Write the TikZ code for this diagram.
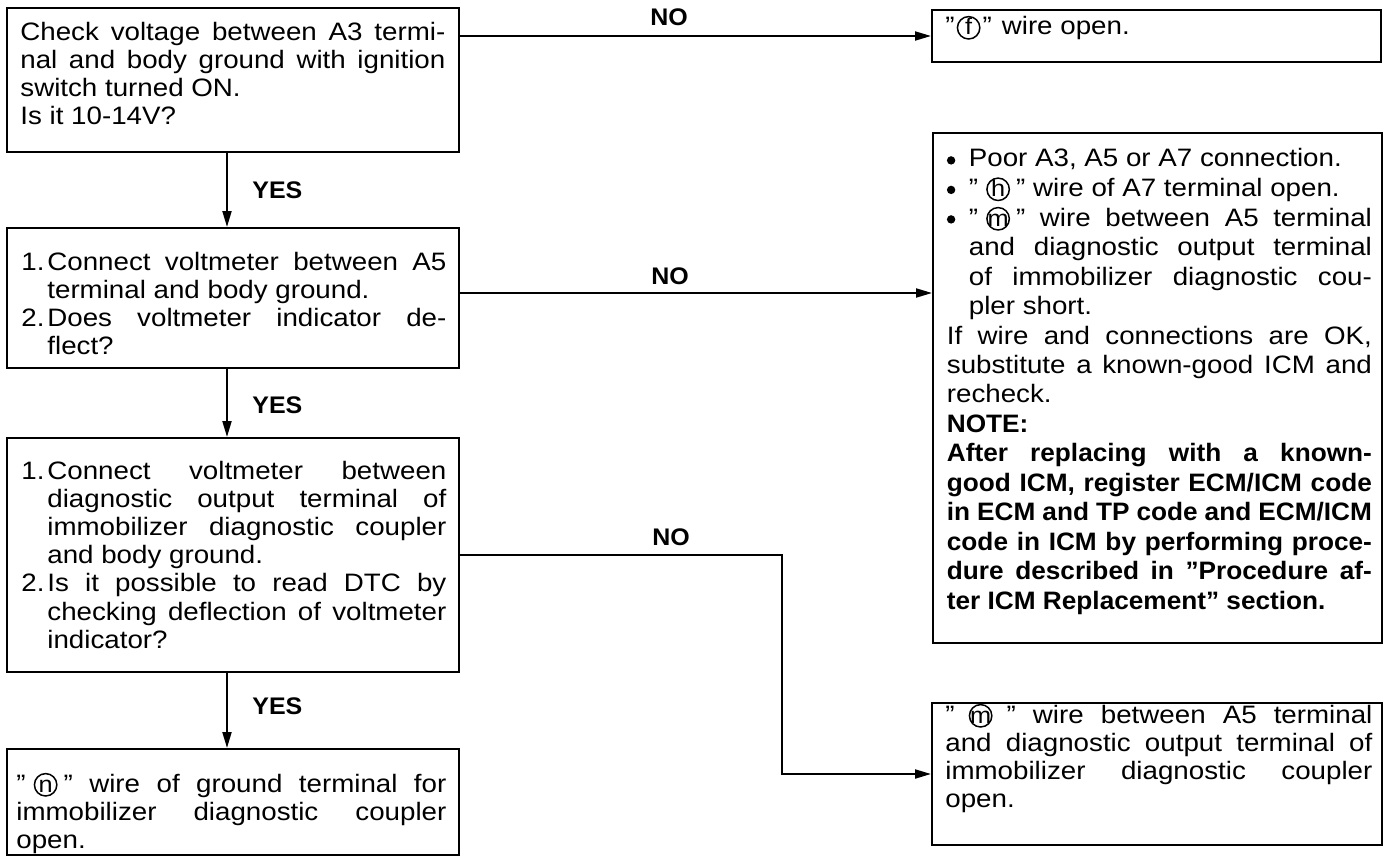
\documentclass[tikz,border=0pt]{standalone}
\usepackage{fontspec}
\setmainfont{Liberation Sans}[FakeStretch=1.1,BoldFeatures={FakeStretch=1.04}]
\usetikzlibrary{arrows.meta,fit,calc}
\tolerance=10000 \hbadness=10000 \hfuzz=20pt \hyphenpenalty=10000 \exhyphenpenalty=10000
\newcommand\cir[1]{\leavevmode\hbox to 12pt{\hss\tikz[baseline=0pt]\draw[line width=0.75pt](0pt,3.6pt) circle[radius=5.6pt];\hss}\hspace{-12pt}\hbox to 12pt{\hss{\fontsize{11.5}{11.5}\selectfont #1}\hss}}
\newcommand\bigdot{\tikz[baseline=-3.3pt]\fill (0pt,0pt) circle[radius=2.1pt];}
\newcommand\itm[2]{\hangindent=13pt\hangafter=1\noindent\makebox[13pt][l]{#1}#2\par}
\newcommand\bul[1]{\hangindent=11pt\hangafter=1\noindent\makebox[11pt][l]{\bigdot}#1\par}
\begin{document}
\begin{tikzpicture}[x=0.5pt,y=-0.5pt,
  box/.style={draw,line width=1pt,inner sep=0pt},
  txt/.style={inner sep=0pt,anchor=base west,align=justify,text width=212.5pt,font=\fontsize{12.6}{14.1}\selectfont},
  lbl/.style={inner sep=0pt,font=\bfseries\fontsize{12}{14}\selectfont},
  arr/.style={line width=1pt,-{Triangle[length=8pt,width=4.5pt]}}]
\useasboundingbox (0,0) rectangle (1387,856);
% boxes
\node[box,fit={(7,8) (459,152)}] (b1) {};
\node[box,fit={(932,10) (1381,62)}] (bF) {};
\node[box,fit={(7,228) (459,368)}] (b2) {};
\node[box,fit={(933,133) (1382,643)}] (bb) {};
\node[box,fit={(7,438) (459,672)}] (b3) {};
\node[box,fit={(7,749) (459,855)}] (b4) {};
\node[box,fit={(932,703) (1382,845)}] (b5) {};
% texts
\node[txt,font=\fontsize{12.6}{13.85}\selectfont] (t1) at (20,41) {Check voltage between A3 termi-\linebreak nal and body ground with ignition\linebreak switch turned ON.\\Is it 10-14V?};
\node[txt] (tF) at (945,35) {”\kern1pt\cir{f}\kern1pt”\hspace{5pt}wire open.};
\node[txt] (t2) at (21,270) {\itm{1.}{Connect voltmeter between A5\linebreak terminal and body ground.}\itm{2.}{Does voltmeter indicator de-\linebreak flect?}};
\node[txt,font=\fontsize{12.6}{14.75}\selectfont] (tb) at (946.5,167) {\bul{Poor A3, A5 or A7 connection.}\bul{”\hspace{4pt}\cir{h}\hspace{3pt}” wire of A7 terminal open.}\bul{”\hspace{4pt}\cir{m}\hspace{3pt}” wire between A5 terminal\linebreak and diagnostic output terminal\linebreak of immobilizer diagnostic cou-\linebreak pler short.}If wire and connections are OK,\linebreak substitute a known-good ICM and\linebreak recheck.\par\textbf{NOTE:}\par\textbf{After replacing with a known-\linebreak good ICM, register ECM/ICM code\linebreak in ECM and TP code and ECM/ICM\linebreak code in ICM by performing proce-\linebreak dure described in ”Procedure af-\linebreak ter ICM Replacement” section.}};
\node[txt] (t3) at (21,479) {\itm{1.}{Connect voltmeter between\linebreak diagnostic output terminal of\linebreak immobilizer diagnostic coupler\linebreak and body ground.}\itm{2.}{Is it possible to read DTC by\linebreak checking deflection of voltmeter\linebreak indicator?}};
\node[txt,text width=215pt] (t4) at (16,792) {”\hspace{4pt}\cir{n}\hspace{3pt}” wire of ground terminal for\linebreak immobilizer diagnostic coupler\linebreak open.};
\node[txt,text width=213.5pt,font=\fontsize{12.6}{14.15}\selectfont] (t5) at (945,723) {”\hspace{7pt}\cir{m}\hspace{7pt}” wire between A5 terminal\linebreak and diagnostic output terminal of\linebreak immobilizer diagnostic coupler\linebreak open.};
% labels
\node[lbl] (no1) at (669,17) {NO};
\node[lbl,anchor=west] (yes1) at (252,190) {YES};
\node[lbl] (no2) at (670,276) {NO};
\node[lbl,anchor=west] (yes2) at (252,405) {YES};
\node[lbl] (no3) at (671,537) {NO};
\node[lbl,anchor=west] (yes3) at (252,706) {YES};
% connectors
\coordinate (vx) at (227,0);
\coordinate (n2) at (0,293);
\coordinate (k3) at (782,555);
\draw[arr] (vx |- b1.south) -- (vx |- b2.north);
\draw[arr] (vx |- b2.south) -- (vx |- b3.north);
\draw[arr] (vx |- b3.south) -- (vx |- b4.north);
\draw[arr] (b1.east |- bF.west) -- (bF.west);
\draw[arr] (b2.east |- n2) -- (bb.west |- n2);
\draw[arr] (b3.east |- k3) -- (k3) |- (b5.west);
\end{tikzpicture}
\end{document}
